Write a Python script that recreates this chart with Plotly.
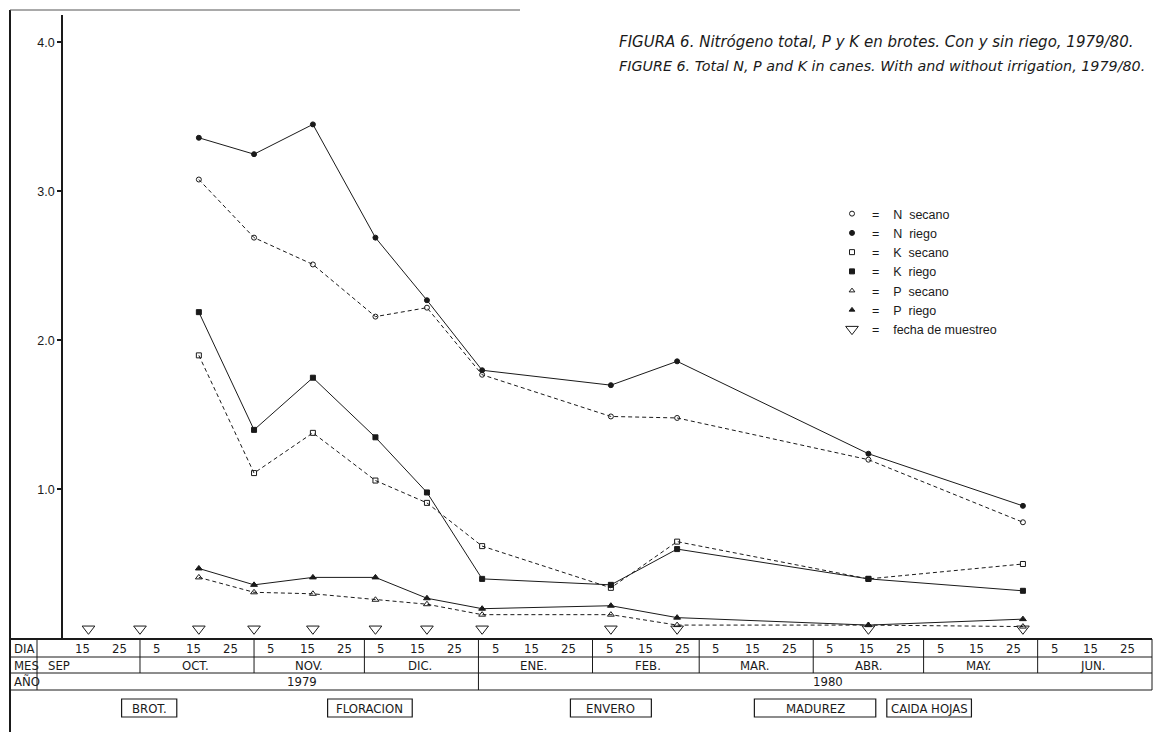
import plotly.graph_objects as go
from datetime import datetime

# Fechas de muestreo con análisis
fechas = ["1979-10-17", "1979-11-01", "1979-11-17", "1979-12-04", "1979-12-18",
          "1980-01-02", "1980-02-06", "1980-02-24", "1980-04-16", "1980-05-28"]
# Todas las fechas de muestreo (símbolo ∇)
muestreo = ["1979-09-17", "1979-10-01"] + fechas

n_secano = [3.08, 2.69, 2.51, 2.16, 2.22, 1.77, 1.49, 1.48, 1.20, 0.78]
n_riego = [3.36, 3.25, 3.45, 2.69, 2.27, 1.80, 1.70, 1.86, 1.24, 0.89]
k_secano = [1.90, 1.11, 1.38, 1.06, 0.91, 0.62, 0.34, 0.65, 0.40, 0.50]
k_riego = [2.19, 1.40, 1.75, 1.35, 0.98, 0.40, 0.36, 0.60, 0.40, 0.32]
p_secano = [0.41, 0.31, 0.30, 0.26, 0.23, 0.16, 0.16, 0.09, 0.09, 0.08]
p_riego = [0.47, 0.36, 0.41, 0.41, 0.27, 0.20, 0.22, 0.14, 0.09, 0.13]

meses = ["SEP", "OCT.", "NOV.", "DIC.", "ENE.", "FEB.", "MAR.", "ABR.", "MAY.", "JUN."]
inicio_mes = ["1979-09-01", "1979-10-01", "1979-11-01", "1979-12-01", "1980-01-01",
              "1980-02-01", "1980-03-01", "1980-04-01", "1980-05-01", "1980-06-01"]
dias = [5, 15, 25]
anios = ["1979", "1980"]
fases = ["BROT.", "FLORACION", "ENVERO", "MADUREZ", "CAIDA HOJAS"]
fase_ini = ["1979-09-26", "1979-11-21", "1980-01-26", "1980-03-16", "1980-04-21"]
fase_fin = ["1979-10-11", "1979-12-14", "1980-02-17", "1980-04-18", "1980-05-14"]
yticks = [1, 2, 3, 4]

titulo_es = "FIGURA 6. Nitrógeno total, P y K en brotes. Con y sin riego, 1979/80."
titulo_en = "FIGURE 6. Total N, P and K in canes. With and without irrigation, 1979/80."

W, H = 1155, 732
ML, MR = 10, 3
INK = "#1a1a1a"
NARROW = "Liberation Sans Narrow, DejaVu Sans Condensed, Arial Narrow, sans-serif"
SANS = "Liberation Sans, Arial, Helvetica, sans-serif"
WIDE = "DejaVu Sans, Verdana, sans-serif"


def px(p):
    """horizontal pixel -> paper fraction"""
    return (p - ML) / (W - ML - MR)


def py(p):
    """vertical pixel -> paper fraction"""
    return (H - p) / H


def midpoint(a, b):
    da, db = datetime.fromisoformat(a), datetime.fromisoformat(b)
    return (da + (db - da) / 2).strftime("%Y-%m-%d %H:%M")


fig = go.Figure()

series = [
    ("N  secano", n_secano, "circle-open", True),
    ("N  riego", n_riego, "circle", False),
    ("K  secano", k_secano, "square-open", True),
    ("K  riego", k_riego, "square", False),
    ("P  secano", p_secano, "triangle-up-open", True),
    ("P  riego", p_riego, "triangle-up", False),
]
for name, vals, sym, dashed in series:
    size = 6 if "triangle" in sym else 5
    fig.add_trace(go.Scatter(
        x=fechas, y=vals, mode="lines+markers", showlegend=False,
        line=dict(color=INK, width=1, dash="4px,3px" if dashed else "solid"),
        marker=dict(symbol=sym, size=size, color=INK, line=dict(color=INK, width=1)),
    ))

# legend entries: marker only
SP = "\u00a0"
for name, vals, sym, dashed in series:
    fig.add_trace(go.Scatter(
        x=[None], y=[None], mode="markers", name="=" + SP * 4 + name.replace(" ", SP),
        legendgroup="series",
        marker=dict(symbol=sym, size=5, color=INK, line=dict(color=INK, width=1)),
    ))

fig.add_trace(go.Scatter(
    x=muestreo, y=[0.065] * len(muestreo), mode="markers",
    name="=" + SP * 4 + "fecha" + SP + "de" + SP + "muestreo", legendgroup="muestreo",
    marker=dict(symbol="triangle-down-open", size=11, color=INK, line=dict(color=INK, width=1)),
))

shapes = []
ann = []

# frame
shapes.append(dict(type="line", xref="paper", yref="paper", x0=px(10), x1=px(10),
                   y0=py(10), y1=py(732), line=dict(color=INK, width=2)))
shapes.append(dict(type="line", xref="paper", yref="paper", x0=px(10), x1=px(520),
                   y0=py(10), y1=py(10), line=dict(color="#555", width=1)))

# table grid
ROW_TOP, ROW1, ROW2, ROW_BOT = 639, 657, 673, 690
for yy, w in [(ROW_TOP, 2), (ROW1, 1), (ROW2, 1), (ROW_BOT, 1)]:
    shapes.append(dict(type="line", xref="paper", yref="paper", x0=px(10), x1=px(1152),
                       y0=py(yy), y1=py(yy), line=dict(color=INK, width=w)))
for xx in (37, 1152):
    shapes.append(dict(type="line", xref="paper", yref="paper", x0=px(xx), x1=px(xx),
                       y0=py(ROW_TOP), y1=py(ROW_BOT), line=dict(color=INK, width=1)))
for m in inicio_mes[1:]:
    shapes.append(dict(type="line", xref="x", yref="paper", x0=m, x1=m,
                       y0=py(ROW_TOP), y1=py(ROW2), line=dict(color=INK, width=1)))
shapes.append(dict(type="line", xref="x", yref="paper", x0="1980-01-01", x1="1980-01-01",
                   y0=py(ROW2), y1=py(ROW_BOT), line=dict(color=INK, width=1)))

tfont = dict(family=NARROW, size=13, color=INK)
for lab, yy in [("DIA", 648), ("MES", 665), ("AÑO", 681.5)]:
    ann.append(dict(x=px(12), y=py(yy), xref="paper", yref="paper", text=lab,
                    showarrow=False, xanchor="left", yanchor="middle", font=tfont))

# day labels
for i, m in enumerate(inicio_mes):
    yr, mo = m[:4], m[5:7]
    for d in dias:
        if i == 0 and d == 5:
            continue
        ann.append(dict(x=f"{yr}-{mo}-{d:02d} 12:00", y=py(648), xref="x", yref="paper",
                        text=str(d), showarrow=False, xanchor="center", yanchor="middle",
                        font=tfont))
# month labels
for i, (lab, m) in enumerate(zip(meses, inicio_mes)):
    yr, mo = m[:4], m[5:7]
    xd = f"{yr}-{mo}-16" if i > 0 else "1979-09-09"
    ann.append(dict(x=xd, y=py(665), xref="x", yref="paper", text=lab, showarrow=False,
                    xanchor="center", yanchor="middle", font=tfont))
# year labels
for lab, xd in zip(anios, ["1979-11-14", "1980-04-05"]):
    ann.append(dict(x=xd, y=py(681.5), xref="x", yref="paper", text=lab, showarrow=False,
                    xanchor="center", yanchor="middle", font=tfont))

# phenological stages
for lab, a, b in zip(fases, fase_ini, fase_fin):
    shapes.append(dict(type="rect", xref="x", yref="paper", x0=a, x1=b,
                       y0=py(717), y1=py(699), line=dict(color=INK, width=1.2)))
    ann.append(dict(x=midpoint(a, b), y=py(708), xref="x", yref="paper", text=lab,
                    showarrow=False, xanchor="center", yanchor="middle", font=tfont))

# titles
ann.append(dict(x=px(617), y=py(42), xref="paper", yref="paper", showarrow=False,
                xanchor="left", yanchor="middle",
                font=dict(family=WIDE, size=15, color=INK),
                text=f"<i>{titulo_es}</i>"))
ann.append(dict(x=px(617), y=py(66), xref="paper", yref="paper", showarrow=False,
                xanchor="left", yanchor="middle",
                font=dict(family=WIDE, size=14.3, color=INK),
                text=f"<i>{titulo_en}</i>"))

fig.update_layout(
    width=W, height=H, margin=dict(l=ML, r=MR, t=0, b=0),
    paper_bgcolor="white", plot_bgcolor="white",
    xaxis=dict(type="date", range=["1979-08-26 16:00", "1980-07-02 02:00"], domain=[0, 1],
               showgrid=False, zeroline=False, showline=False, showticklabels=False,
               ticks=""),
    yaxis=dict(range=[0, 4.184], domain=[py(638.5), py(15)], anchor="free",
               position=px(62), showline=True, linecolor=INK, linewidth=1.5,
               ticks="outside", ticklen=4, tickcolor=INK, tickwidth=1.5,
               tickvals=yticks, ticktext=[f"{v:.1f}" for v in yticks],
               showgrid=False, zeroline=False,
               tickfont=dict(family=SANS, size=12.5, color=INK)),
    legend=dict(x=px(832), y=py(199), xanchor="left", yanchor="top",
                font=dict(family=SANS, size=12.5, color=INK), tracegroupgap=0,
                bgcolor="rgba(0,0,0,0)", itemwidth=30),
    shapes=shapes, annotations=ann,
)

fig.write_html("out.html")
